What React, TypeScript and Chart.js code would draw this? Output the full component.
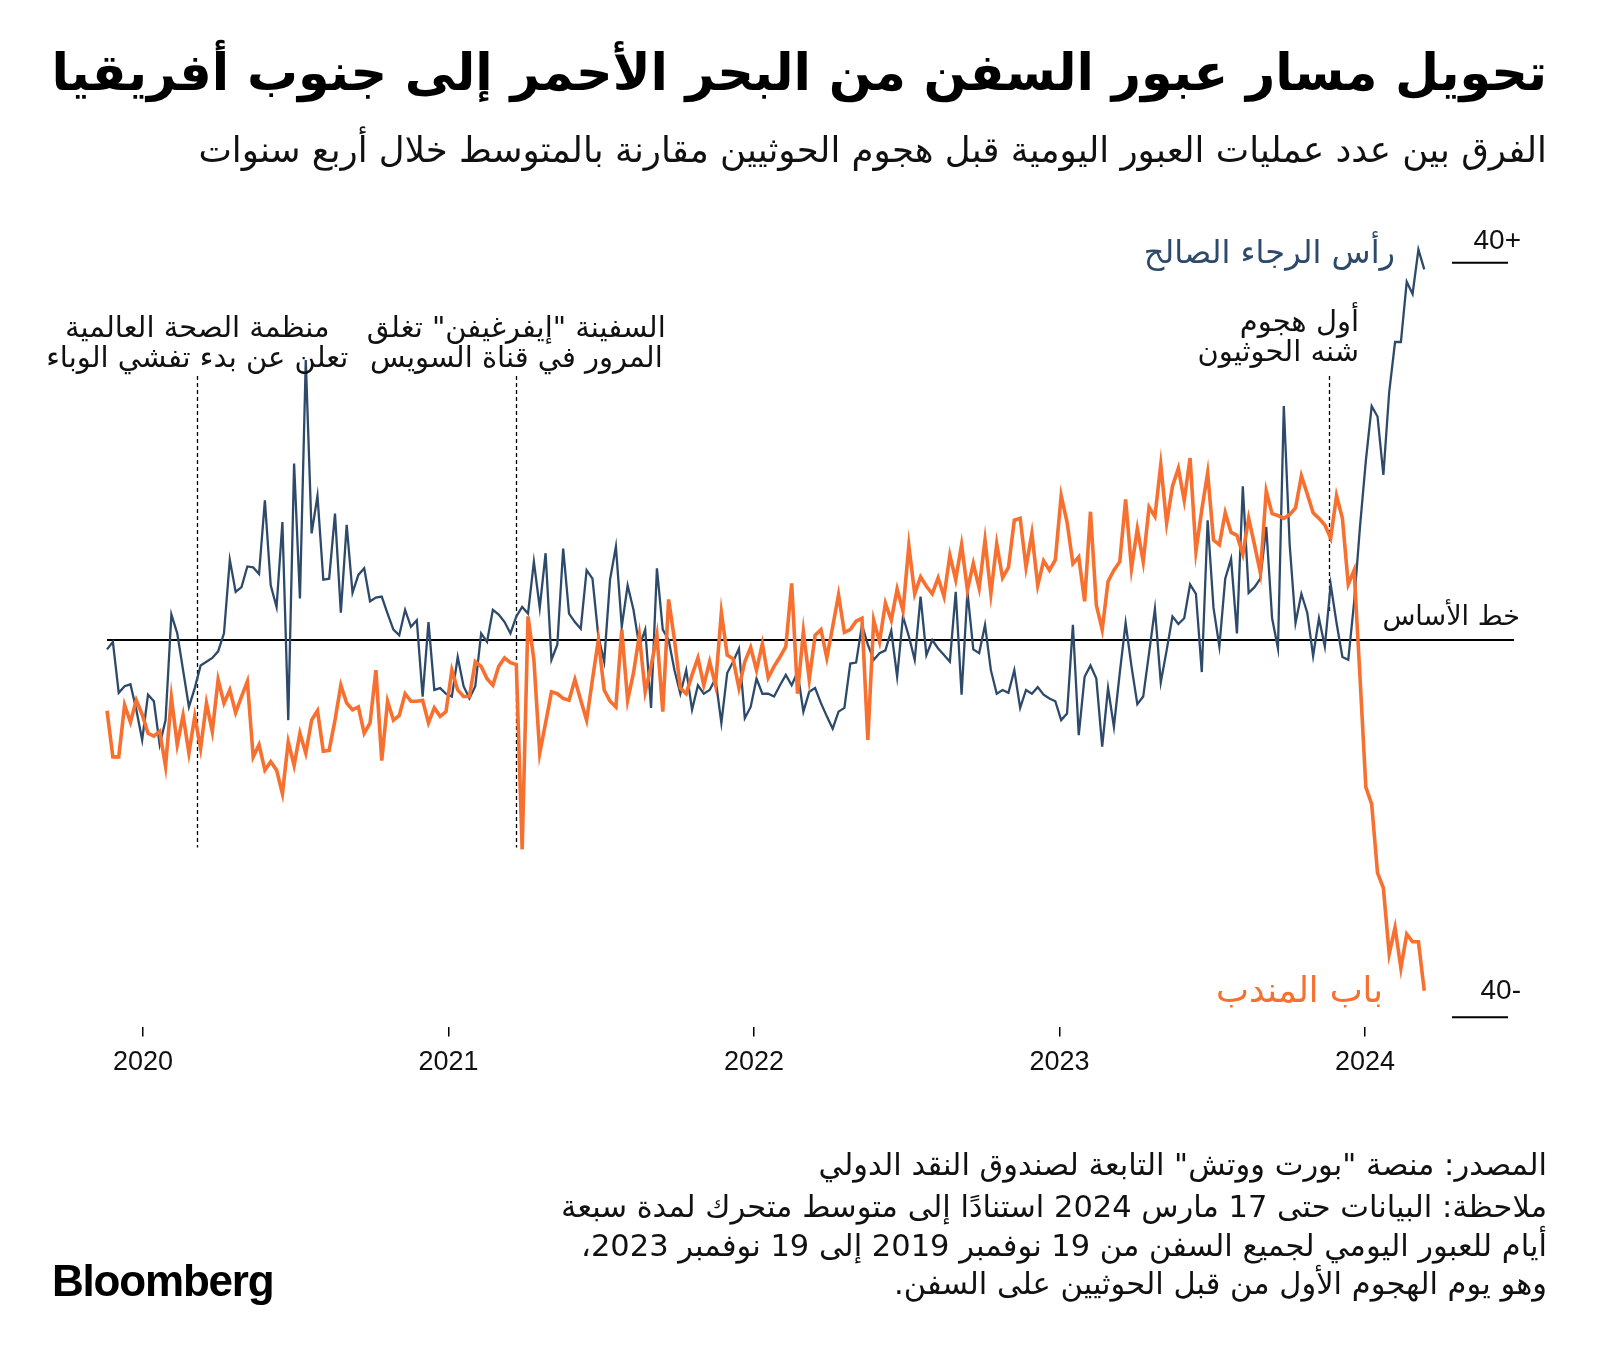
import React, { useEffect, useRef } from "react";
import { Chart, registerables } from "chart.js";

Chart.register(...registerables);

// ---------- DATA ----------
const START_DATE = "2019-11-19"; // first weekly observation
const WEEK_STEP_DAYS = 7;

// Cape of Good Hope: daily transits vs four-year average (weekly readings)
const capeOfGoodHope = [
  -1.0, -0.2, -5.6, -4.9, -4.7, -7.4, -10.6, -5.8, -6.5, -11.1,
  -8.5, 2.7, 0.7, -3.2, -7.1, -5.1, -2.7, -2.3, -1.9, -1.2,
  0.7, 8.5, 5.1, 5.6, 7.8, 7.7, 7.0, 14.8, 5.8, 3.5,
  12.5, -8.5, 18.7, 4.4, 29.7, 11.3, 15.3, 6.4, 6.5, 13.4,
  2.9, 12.2, 5.0, 6.9, 7.6, 4.1, 4.5, 4.6, 2.8, 1.1,
  0.5, 3.2, 1.4, 2.1, -6.0, 1.9, -5.3, -5.1, -5.7, -6.0,
  -1.8, -4.9, -6.2, -4.9, 0.7, -0.2, 3.2, 2.7, 1.9, 0.7,
  2.5, 3.5, 2.8, 8.3, 3.4, 9.2, -2.1, -0.5, 9.7, 2.8,
  1.9, 1.2, 7.4, 6.5, 0.4, -2.3, 6.4, 9.9, 1.4, 5.8,
  3.2, -0.7, 1.1, -7.2, 7.6, 1.1, 0.0, -3.2, -5.7, -3.2,
  -7.4, -4.8, -5.7, -5.3, -4.1, -8.8, -3.5, -2.3, -0.9, -8.3,
  -7.1, -4.1, -5.7, -5.7, -6.0, -4.8, -3.7, -4.8, -3.4, -7.6,
  -5.5, -5.1, -6.7, -8.1, -9.4, -7.6, -7.2, -2.5, -2.4, 1.6,
  -0.5, -2.1, -1.4, -1.1, 1.0, -3.9, 2.5, 0.4, -2.1, 4.6,
  -1.6, 0.0, -0.9, -1.6, -2.3, 5.1, -5.8, 5.1, -1.0, -1.4,
  1.6, -3.2, -5.7, -5.3, -5.6, -3.2, -7.2, -5.3, -5.7, -5.0,
  -5.8, -6.2, -6.5, -8.5, -7.8, 1.6, -10.1, -3.9, -2.7, -4.1,
  -11.3, -5.1, -9.2, -3.5, 1.8, -2.8, -6.8, -6.0, -1.4, 3.3,
  -4.5, -1.1, 2.5, 1.7, 2.3, 5.9, 4.9, -3.4, 12.7, 3.4,
  -0.7, 6.5, 8.6, 0.7, 16.3, 5.0, 5.6, 6.5, 12.0, 2.3,
  -0.9, 24.8, 10.1, 1.8, 4.9, 2.9, -1.7, 2.3, -0.7, 5.9,
  1.8, -1.8, -2.1, 4.0, 12.0, 19.0, 24.8, 23.7, 17.5, 26.3,
  31.6, 31.6, 38.0, 36.7, 41.4, 39.3,
];

// Bab el-Mandeb: daily transits vs four-year average (weekly readings)
const babElMandeb = [
  -7.5, -12.4, -12.4, -6.9, -8.7, -6.4, -7.9, -9.9, -10.2, -9.7,
  -13.4, -6.1, -11.1, -8.0, -12.0, -8.1, -11.5, -6.7, -9.7, -4.2,
  -6.7, -5.3, -7.7, -6.0, -4.4, -12.4, -11.1, -13.8, -12.9, -13.8,
  -16.3, -10.8, -13.3, -9.9, -12.0, -8.5, -7.5, -11.8, -11.7, -8.5,
  -4.8, -6.7, -7.4, -7.1, -9.9, -8.8, -3.2, -12.8, -6.5, -8.5,
  -8.0, -5.7, -6.5, -6.5, -6.4, -8.8, -7.2, -8.1, -7.6, -3.2,
  -5.3, -6.0, -6.0, -2.3, -2.8, -4.1, -4.8, -2.8, -1.9, -2.4,
  -2.6, -22.2, 2.5, -2.1, -12.0, -8.8, -5.5, -5.7, -6.2, -6.4,
  -4.2, -6.4, -8.5, -4.2, 0.0, -5.3, -6.5, -7.1, 1.1, -6.4,
  -3.5, 0.5, -5.5, -2.8, 0.5, -7.6, 4.3, 0.0, -5.1, -5.7,
  -3.7, -1.9, -4.8, -2.3, -4.8, 2.9, -1.6, -2.0, -5.1, -2.3,
  -0.8, -3.2, -0.4, -4.0, -2.8, -1.8, -0.7, 6.0, -5.7, 0.9,
  -4.2, 0.5, 1.1, -1.9, 1.4, 4.8, 0.8, 1.1, 2.0, 2.3,
  -10.6, 2.1, -0.2, 3.9, 2.1, 5.4, 3.1, 10.0, 4.9, 6.7,
  5.7, 4.9, 6.6, 4.6, 9.0, 6.4, 10.1, 5.3, 8.1, 5.5,
  10.6, 4.9, 10.2, 6.6, 7.7, 12.7, 12.9, 7.7, 11.3, 5.8,
  8.4, 7.4, 8.5, 15.3, 12.5, 8.1, 8.8, 4.1, 13.6, 3.7,
  1.1, 6.2, 7.4, 8.3, 14.9, 7.6, 11.8, 8.3, 14.1, 13.1,
  18.6, 12.4, 16.3, 18.2, 14.8, 19.3, 9.4, 13.8, 17.7, 10.6,
  10.1, 13.5, 11.4, 11.1, 9.1, 12.9, 10.1, 7.1, 15.8, 13.4,
  13.2, 12.9, 13.3, 14.0, 17.4, 15.5, 13.5, 12.9, 12.2, 10.8,
  15.3, 12.9, 5.9, 7.4, -3.9, -15.6, -17.4, -24.7, -26.3, -33.3,
  -30.5, -34.8, -31.2, -32.0, -32.0, -37.2,
];

const yearTicks = [2020, 2021, 2022, 2023, 2024];
const valueTicks = [40, -40];
const valueTickLabels = ["40+", "40-"];

const eventDates = ["2020-03-06", "2021-03-23", "2023-11-19"];
const eventLines = [
  ["منظمة الصحة العالمية", "تعلن عن بدء تفشي الوباء"],
  ["السفينة \"إيفرغيفن\" تغلق", "المرور في قناة السويس"],
  ["أول هجوم", "شنه الحوثيون"],
];

const TITLE = "تحويل مسار عبور السفن من البحر الأحمر إلى جنوب أفريقيا";
const SUBTITLE =
  "الفرق بين عدد عمليات العبور اليومية قبل هجوم الحوثيين مقارنة بالمتوسط خلال أربع سنوات";
const SERIES_CAPE = "رأس الرجاء الصالح";
const SERIES_BAB = "باب المندب";
const BASELINE_LABEL = "خط الأساس";
const FOOTNOTES = [
  "المصدر: منصة \"بورت ووتش\" التابعة لصندوق النقد الدولي",
  "ملاحظة: البيانات حتى 17 مارس 2024 استنادًا إلى متوسط متحرك لمدة سبعة",
  "أيام للعبور اليومي لجميع السفن من 19 نوفمبر 2019 إلى 19 نوفمبر 2023،",
  "وهو يوم الهجوم الأول من قبل الحوثيين على السفن.",
];

// ---------- helpers ----------
const BLUE = "#2d4a6a";
const ORANGE = "#f7702f";
const AR_FONT = "'DejaVu Sans', sans-serif";

function toDecimalYear(ms: number): number {
  const d = new Date(ms);
  const y = d.getUTCFullYear();
  const s = Date.UTC(y, 0, 1);
  const e = Date.UTC(y + 1, 0, 1);
  return y + (ms - s) / (e - s);
}
const startMs = Date.parse(START_DATE + "T00:00:00Z");
const weekX = capeOfGoodHope.map((_, i) =>
  toDecimalYear(startMs + i * WEEK_STEP_DAYS * 86400000)
);
const eventX = eventDates.map((d) => toDecimalYear(Date.parse(d + "T00:00:00Z")));

const annotationPlugin = {
  id: "annotations",
  beforeDatasetsDraw(chart: any) {
    const { ctx, chartArea, scales } = chart;
    const x = scales.x;
    const y = scales.y;
    ctx.save();
    // baseline
    const y0 = y.getPixelForValue(0);
    ctx.strokeStyle = "#000";
    ctx.lineWidth = 2;
    ctx.beginPath();
    ctx.moveTo(x.getPixelForValue(weekX[0]), y0);
    ctx.lineTo(chartArea.right - 1, y0);
    ctx.stroke();
    // event dashed lines
    const spans = [
      [28, -22],
      [28, -22],
      [28, 2.8],
    ];
    ctx.setLineDash([4, 3]);
    ctx.lineWidth = 1.3;
    eventX.forEach((ex, i) => {
      const px = Math.round(x.getPixelForValue(ex)) + 0.5;
      ctx.beginPath();
      ctx.moveTo(px, y.getPixelForValue(spans[i][0]));
      ctx.lineTo(px, y.getPixelForValue(spans[i][1]));
      ctx.stroke();
    });
    ctx.setLineDash([]);
    // value tick lines on the right
    ctx.lineWidth = 2;
    valueTicks.forEach((v) => {
      const py = y.getPixelForValue(v);
      ctx.beginPath();
      ctx.moveTo(1452, py);
      ctx.lineTo(1508, py);
      ctx.stroke();
    });
    ctx.restore();
  },
  afterDatasetsDraw(chart: any) {
    const { ctx, scales } = chart;
    const x = scales.x;
    const y = scales.y;
    ctx.save();
    ctx.textBaseline = "middle";
    // event labels
    ctx.fillStyle = "#111";
    ctx.font = `29px ${AR_FONT}`;
    ctx.direction = "rtl";
    eventX.forEach((ex, i) => {
      const px = x.getPixelForValue(ex);
      const lines = eventLines[i];
      if (i < 2) {
        ctx.textAlign = "center";
        ctx.fillText(lines[0], px, 329);
        ctx.fillText(lines[1], px, 359);
      } else {
        ctx.textAlign = "right";
        ctx.fillText(lines[0], px + 30, 323);
        ctx.fillText(lines[1], px + 30, 353);
      }
    });
    // series labels
    ctx.textAlign = "right";
    ctx.font = `32px ${AR_FONT}`;
    ctx.fillStyle = BLUE;
    ctx.fillText(SERIES_CAPE, 1395, 255);
    ctx.font = `35px ${AR_FONT}`;
    ctx.fillStyle = ORANGE;
    ctx.fillText(SERIES_BAB, 1383, 993);
    // baseline label
    ctx.fillStyle = "#111";
    ctx.font = `27px ${AR_FONT}`;
    ctx.fillText(BASELINE_LABEL, 1520, y.getPixelForValue(0) - 22);
    // value tick labels
    ctx.direction = "ltr";
    ctx.font = `28px 'Liberation Sans', Arial, sans-serif`;
    ctx.textAlign = "right";
    valueTicks.forEach((v, i) => {
      ctx.fillText(valueTickLabels[i], 1521, y.getPixelForValue(v) - (v > 0 ? 22 : 26));
    });
    ctx.restore();
  },
};

export default function App() {
  const canvasRef = useRef<HTMLCanvasElement | null>(null);

  useEffect(() => {
    if (!canvasRef.current) return;
    const chart = new Chart(canvasRef.current, {
      type: "line",
      data: {
        datasets: [
          {
            label: SERIES_BAB,
            data: babElMandeb.map((v, i) => ({ x: weekX[i], y: v })),
            borderColor: ORANGE,
            borderWidth: 3.6,
            pointRadius: 0,
            tension: 0,
            fill: false,
          },
          {
            label: SERIES_CAPE,
            data: capeOfGoodHope.map((v, i) => ({ x: weekX[i], y: v })),
            borderColor: BLUE,
            borderWidth: 2.3,
            pointRadius: 0,
            tension: 0,
            fill: false,
          },
        ],
      },
      options: {
        animation: false,
        responsive: false,
        maintainAspectRatio: false,
        layout: { padding: { left: 100, right: 85, top: 215.65, bottom: 274.4 } },
        plugins: { legend: { display: false }, tooltip: { enabled: false } },
        scales: {
          x: {
            type: "linear",
            min: 2019.8592,
            max: 2024.491,
            afterBuildTicks: (s: any) => {
              s.ticks = yearTicks.map((v) => ({ value: v }));
            },
            afterFit: (s: any) => {
              s.height = 60;
            },
            grid: {
              drawOnChartArea: false,
              drawTicks: true,
              tickLength: 10,
              color: "#000",
              lineWidth: 1.5,
            },
            border: { display: false },
            ticks: {
              autoSkip: false,
              maxRotation: 0,
              padding: 10,
              color: "#111",
              font: { family: "'Liberation Sans', Arial, sans-serif", size: 27 },
              callback: (v: any) => String(v),
            },
          },
          y: { display: false, min: -41, max: 45 },
        },
      },
      plugins: [annotationPlugin],
    });
    return () => chart.destroy();
  }, []);

  const arBase: React.CSSProperties = {
    position: "absolute",
    direction: "rtl",
    whiteSpace: "nowrap",
    color: "#000",
    fontFamily: AR_FONT,
  };

  const footTops = [1145, 1187, 1225.5, 1264];

  return (
    <div style={{ position: "absolute", left: 0, top: 0, width: 1600, height: 1361, background: "#fff", overflow: "hidden" }}>
      <canvas ref={canvasRef} width={1600} height={1361} style={{ position: "absolute", left: 0, top: 0 }} />
      <div style={{ ...arBase, right: 53, top: 38, fontWeight: 700, fontSize: 50.8, lineHeight: "70px" }}>
        {TITLE}
      </div>
      <div style={{ ...arBase, right: 53, top: 128, fontSize: 35.5, lineHeight: "44px", color: "#111" }}>
        {SUBTITLE}
      </div>
      {FOOTNOTES.map((t, i) => (
        <div
          key={i}
          style={{ ...arBase, right: 53, top: footTops[i], fontSize: 30.5, lineHeight: "40px", color: "#111" }}
        >
          {t}
        </div>
      ))}
      <div
        style={{
          position: "absolute",
          left: 52,
          top: 1256,
          fontFamily: "'Liberation Sans', Arial, sans-serif",
          fontWeight: 700,
          fontSize: 44,
          lineHeight: "50px",
          letterSpacing: -1.2,
          color: "#000",
        }}
      >
        Bloomberg
      </div>
    </div>
  );
}
